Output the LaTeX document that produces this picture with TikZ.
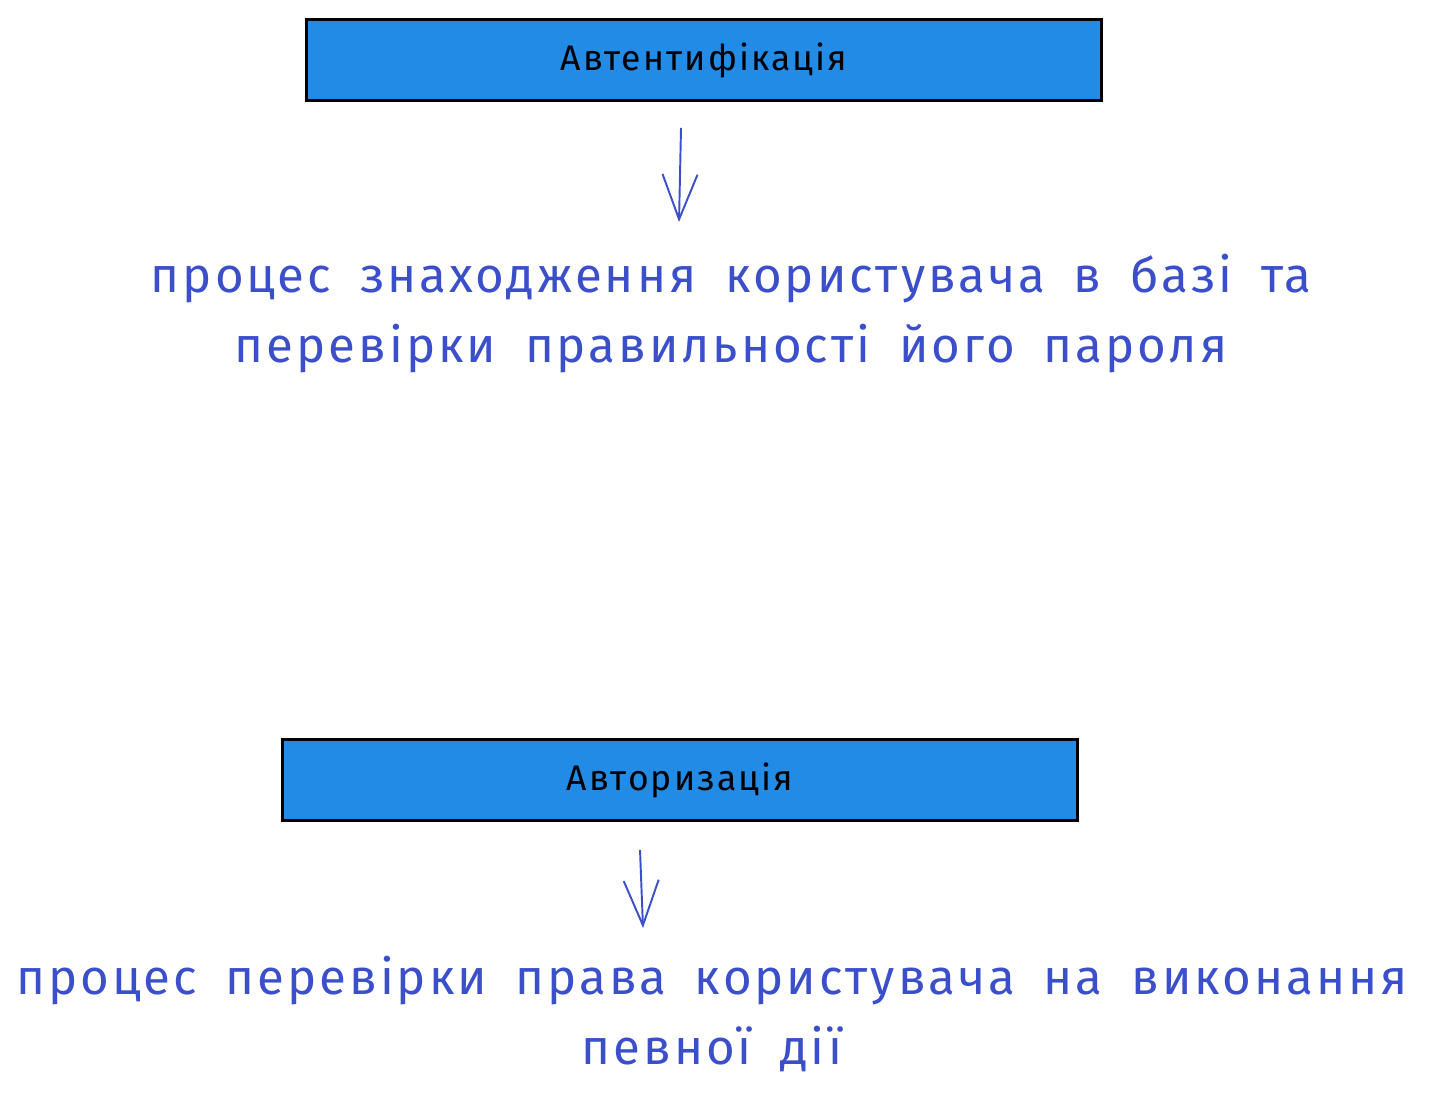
\documentclass[tikz,border=0pt]{standalone}
\usepackage{fontspec}
\setmainfont{Fira Sans}
\newfontfamily\handfont[LetterSpace=6,WordSpace=1.8]{Fira Sans}
\usetikzlibrary{arrows.meta,calc,positioning}
\definecolor{boxblue}{HTML}{228BE6}
\definecolor{inkblue}{HTML}{3B4FCB}
\tikzset{>={Straight Barb[length=9mm,width=7mm]}}
\tikzset{box/.style={draw=black, fill=boxblue, line width=1.5pt, minimum width=15.9cm, minimum height=1.62cm, inner sep=0pt, font=\handfont\fontsize{20.2}{24}\selectfont}}
\tikzset{desc/.style={text=inkblue, align=center, inner sep=0pt, font=\handfont\fontsize{28}{39.8}\selectfont}}
\tikzset{link/.style={->, draw=inkblue, line width=1.1pt}}

\begin{document}
\begin{tikzpicture}[x=0.02cm,y=-0.02cm]
      \useasboundingbox (0,0) rectangle (1452,1104);
      % authentication
      \node[box] (authn) at (704,60) {Автентифікація};
      \node[desc] (authndesc) at (731,314) {процес знаходження користувача в базі та\\перевірки правильності його пароля};
      \coordinate (authntip) at (679,222);
      \draw[link] ([xshift=-0.46cm,yshift=-0.52cm]authn.south) -- (authntip);
      % authorization
      \node[box] (authz) at (680,780) {Авторизація};
      \node[desc] (authzdesc) at (712,1014) {процес перевірки права користувача на виконання\\певної дії};
      \coordinate (authztip) at (643,928);
      \draw[link] ([xshift=-0.8cm,yshift=-0.56cm]authz.south) -- (authztip);
\end{tikzpicture}
\end{document}
